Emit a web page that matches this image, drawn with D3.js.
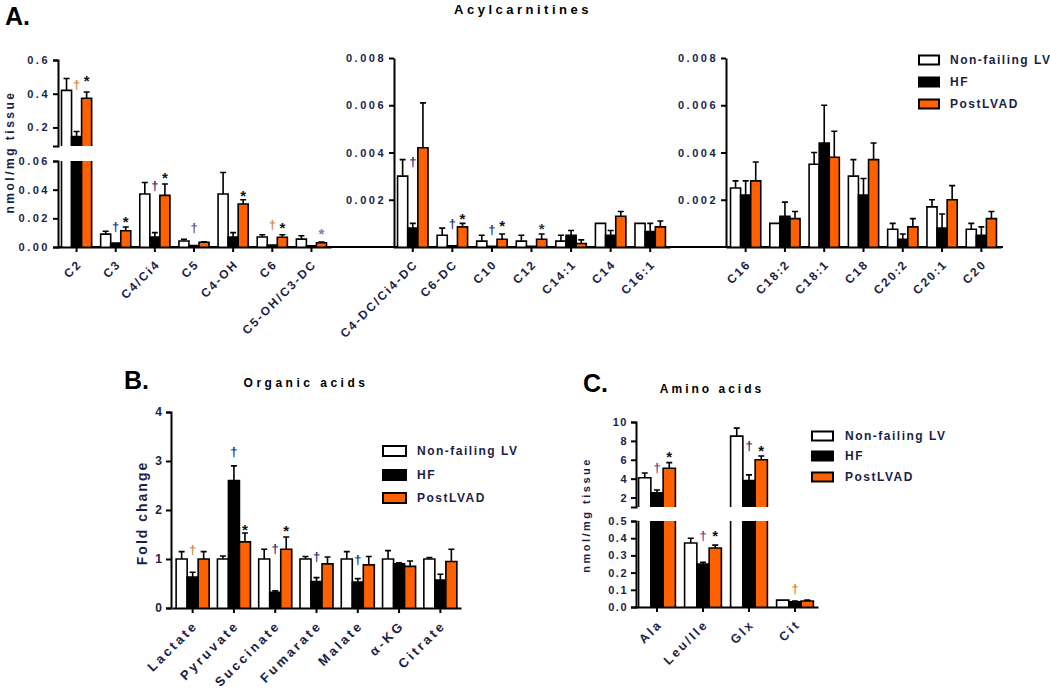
<!DOCTYPE html>
<html><head><meta charset="utf-8">
<script src="https://cdn.jsdelivr.net/npm/d3@7"></script>
<style>
body{margin:0;background:#fff;}
svg text{font-family:"Liberation Sans",Arial,sans-serif;font-weight:bold;}
</style></head><body>
<svg id="chart" width="1050" height="692"></svg>
<script>
// ---------- DATA ----------
const seriesNames = ["Non-failing LV", "HF", "PostLVAD"];

// Panel A – left (short/medium chain)
const acylLeftCats = ["C2","C3","C4/Ci4","C5","C4-OH","C6","C5-OH/C3-DC"];
const acylLeftNF     = [0.42, 0.009, 0.037, 0.0042, 0.037, 0.007, 0.0055];
const acylLeftNFErr  = [0.49, 0.011, 0.045, 0.0054, 0.052, 0.0085, 0.0078];
const acylLeftHF     = [0.146, 0.0028, 0.007, 0.001, 0.007, 0.0014, 0.0008];
const acylLeftHFErr  = [0.176, 0.0028, 0.010, 0.001, 0.010, 0.0014, 0.0008];
const acylLeftLV     = [0.373, 0.0113, 0.036, 0.0033, 0.030, 0.0068, 0.003];
const acylLeftLVErr  = [0.41, 0.014, 0.044, 0.0037, 0.033, 0.0085, 0.0035];
const acylLeftLowerTicks = [0, 0.02, 0.04, 0.06];
const acylLeftUpperTicks = [0.2, 0.4, 0.6];

// Panel A – middle
const acylMidCats = ["C4-DC/Ci4-DC","C6-DC","C10","C12","C14:1","C14","C16:1"];
const acylMidNF    = [0.0030, 0.0005, 0.00025, 0.00025, 0.00025, 0.0010, 0.0010];
const acylMidNFErr = [0.0037, 0.0008, 0.0005, 0.0005, 0.0005, 0.0010, 0.0010];
const acylMidHF    = [0.0008, 0.00005, 0.00003, 0.00003, 0.0005, 0.0005, 0.00065];
const acylMidHFErr = [0.0010, 0.00005, 0.00003, 0.00003, 0.0007, 0.0007, 0.0010];
const acylMidLV    = [0.0042, 0.00085, 0.00033, 0.00033, 0.00015, 0.0013, 0.00085];
const acylMidLVErr = [0.0061, 0.0010, 0.00055, 0.00055, 0.0003, 0.0015, 0.0011];

// Panel A – right (long chain)
const acylRightCats = ["C16","C18:2","C18:1","C18","C20:2","C20:1","C20"];
const acylRightNF    = [0.0025, 0.0010, 0.0035, 0.0030, 0.00075, 0.0017, 0.00075];
const acylRightNFErr = [0.0028, 0.0010, 0.0040, 0.0037, 0.0010, 0.0020, 0.0010];
const acylRightHF    = [0.0022, 0.0013, 0.0044, 0.0022, 0.00033, 0.0008, 0.0005];
const acylRightHFErr = [0.0028, 0.0019, 0.0060, 0.0029, 0.00055, 0.0014, 0.00085];
const acylRightLV    = [0.0028, 0.0012, 0.0038, 0.0037, 0.00085, 0.0020, 0.0012];
const acylRightLVErr = [0.0036, 0.0015, 0.0049, 0.0044, 0.0012, 0.0026, 0.0015];
const acylSmallTicks = [0.002, 0.004, 0.006, 0.008];

// Panel B – organic acids (fold change)
const orgCats = ["Lactate","Pyruvate","Succinate","Fumarate","Malate","\u03B1-KG","Citrate"];
const orgNF    = [1, 1, 1, 1, 1, 1, 1];
const orgNFErr = [1.15, 1.06, 1.2, 1.05, 1.15, 1.17, 1.03];
const orgHF    = [0.63, 2.6, 0.32, 0.54, 0.53, 0.9, 0.57];
const orgHFErr = [0.73, 2.9, 0.35, 0.62, 0.6, 0.92, 0.69];
const orgLV    = [1.0, 1.35, 1.2, 0.9, 0.88, 0.85, 0.95];
const orgLVErr = [1.15, 1.53, 1.45, 1.04, 1.05, 0.96, 1.2];
const orgTicks = [0, 1, 2, 3, 4];

// Panel C – amino acids
const aminoCats = ["Ala","Leu/Ile","Glx","Cit"];
const aminoNF    = [4.1, 0.372, 8.5, 0.04];
const aminoNFErr = [4.6, 0.40, 9.35, 0.04];
const aminoHF    = [2.5, 0.25, 3.8, 0.03];
const aminoHFErr = [2.8, 0.26, 4.4, 0.035];
const aminoLV    = [5.1, 0.343, 6.0, 0.035];
const aminoLVErr = [5.7, 0.36, 6.4, 0.04];
const aminoLowerTicks = [0, 0.1, 0.2, 0.3, 0.4, 0.5];
const aminoUpperTicks = [2, 4, 6, 8, 10];

// significance marks: [category, series index, symbol, value at glyph centre, colour]
const NAVY = "#24307a", PURPLE = "#7a3d8f", ORANGE = "#d4893a", GREY = "#7384a8", BLK = "#111";
const acylLeftMarks = [
  ["C2",1,"\u2020",0.452,ORANGE],["C2",2,"*",0.493,BLK],
  ["C3",1,"\u2020",0.0136,NAVY],["C3",2,"*",0.0195,BLK],
  ["C4/Ci4",1,"\u2020",0.0422,NAVY],["C4/Ci4",2,"*",0.0506,BLK],
  ["C5",1,"\u2020",0.0133,PURPLE],
  ["C4-OH",2,"*",0.0377,BLK],
  ["C6",1,"\u2020",0.0154,ORANGE],["C6",2,"*",0.0157,BLK],
  ["C5-OH/C3-DC",2,"*",0.0112,GREY]
];
const acylMidMarks = [
  ["C4-DC/Ci4-DC",1,"\u2020",0.00358,NAVY],
  ["C6-DC",1,"\u2020",0.00097,NAVY],["C6-DC",2,"*",0.00135,BLK],
  ["C10",1,"\u2020",0.00072,NAVY],["C10",2,"*",0.00102,BLK],
  ["C12",2,"*",0.00091,"#333"]
];
const orgMarks = [
  ["Lactate",1,"\u2020",1.18,ORANGE],
  ["Pyruvate",1,"\u2020",3.18,NAVY],["Pyruvate",2,"*",1.66,BLK],
  ["Succinate",1,"\u2020",1.2,NAVY],["Succinate",2,"*",1.64,BLK],
  ["Fumarate",1,"\u2020",1.03,NAVY],
  ["Malate",1,"\u2020",0.98,NAVY]
];
const aminoMarks = [
  ["Ala",1,"\u2020",5.1,PURPLE],["Ala",2,"*",6.68,BLK],
  ["Leu/Ile",1,"\u2020",0.413,PURPLE],["Leu/Ile",2,"*",0.433,BLK],
  ["Glx",1,"\u2020",7.47,NAVY],["Glx",2,"*",7.26,BLK],
  ["Cit",1,"\u2020",0.105,ORANGE]
];

// ---------- DRAWING ----------
const svg = d3.select("#chart");
const FILL = ["#ffffff", "#000000", "#ff6000"];
const TXT = "#1b1e46";

function yMapper(segs){
  const sc = segs.map(s => d3.scaleLinear().domain(s.domain).range(s.range));
  const f = v => {
    for (let k = segs.length - 1; k >= 0; k--) {
      if (v >= segs[k].domain[0] || k === 0) return sc[k](Math.min(v, segs[k].domain[1]));
    }
  };
  f.scales = sc; f.segs = segs;
  return f;
}

function styleAxis(g, fs, ls){
  g.selectAll("path,line").attr("stroke", "#000").attr("stroke-width", 2);
  g.selectAll("text").attr("fill", TXT).attr("font-size", fs).attr("letter-spacing", ls)
    .attr("font-family", "Liberation Sans, Arial, sans-serif").attr("font-weight", "bold");
}

function yAxis(x, scale, ticks, fmt, outer, fs, ls){
  const g = svg.append("g").attr("transform", `translate(${x},0)`)
    .call(d3.axisLeft(scale).tickValues(ticks).tickFormat(fmt).tickSize(5).tickSizeOuter(outer));
  styleAxis(g, fs, ls);
  g.selectAll(".tick text").attr("x", -8);
  return g;
}

function drawBars(cats, vals, errs, x0, ym){
  const g = svg.append("g");
  const x1 = d3.scaleBand().domain([0,1,2]).range([0, x0.bandwidth()]);
  const w = x1.bandwidth();
  cats.forEach((c, i) => {
    for (let s = 0; s < 3; s++) {
      const v = vals[s][i], e = errs[s][i];
      const xl = x0(c) + x1(s), xr = xl + w, xc = xl + w / 2;
      ym.segs.forEach((seg, k) => {
        const lo = k === 0 ? 0 : seg.domain[0];
        if (v <= lo) return;
        const hi = seg.domain[1];
        const top = Math.min(v, hi);
        const yb = ym.scales[k](lo), yt = ym.scales[k](top);
        g.append("rect").attr("x", xl).attr("y", yt).attr("width", w)
          .attr("height", Math.max(0, yb - yt)).attr("fill", FILL[s]);
        const closed = v <= hi;
        const d = closed ? `M${xl},${yb}V${yt}H${xr}V${yb}` : `M${xl},${yb}V${yt}M${xr},${yt}V${yb}`;
        g.append("path").attr("d", d).attr("fill", "none").attr("stroke", "#000").attr("stroke-width", 1.6);
      });
      if (e > v) {
        const y1 = ym(v), y2 = ym(e);
        g.append("path").attr("d", `M${xc},${y1}V${y2}M${xc-3},${y2}H${xc+3}`)
          .attr("stroke", "#000").attr("stroke-width", 1.6).attr("fill", "none");
      }
    }
  });
  return x1;
}

function drawMarks(marks, x0, x1, ym){
  marks.forEach(([cat, s, sym, v, col]) => {
    const xc = x0(cat) + x1(s) + x1.bandwidth() / 2;
    const star = sym === "*";
    svg.append("text").attr("x", xc).attr("y", ym(v))
      .attr("dy", star ? "0.56em" : "0.3em").attr("text-anchor", "middle")
      .attr("fill", col).attr("font-size", star ? 15 : 13).text(sym);
  });
}

function xAxis(cats, x0, y, fs, ls, off, down){
  const g = svg.append("g").attr("transform", `translate(0,${y})`)
    .call(d3.axisBottom(x0).tickSize(5).tickSizeOuter(0).tickFormat(""));
  styleAxis(g, fs, ls);
  cats.forEach(c => {
    const xc = x0(c) + x0.bandwidth() / 2;
    svg.append("text").attr("transform", `translate(${xc + off},${y + down}) rotate(-45)`)
      .attr("text-anchor", "end").attr("dy", "0.35em")
      .attr("font-size", fs).attr("letter-spacing", ls).attr("fill", TXT).text(c);
  });
}

function legend(x, ys, bw, bh, tx, fs, ls){
  seriesNames.forEach((n, i) => {
    svg.append("rect").attr("x", x).attr("y", ys[i] - bh / 2).attr("width", bw).attr("height", bh)
      .attr("fill", FILL[i]).attr("stroke", "#000").attr("stroke-width", 2);
    svg.append("text").attr("x", tx).attr("y", ys[i]).attr("dy", "0.35em")
      .attr("font-size", fs).attr("letter-spacing", ls).attr("fill", TXT).text(n);
  });
}

function label(x, y, txt, fs, ls, rot, anchor, fill){
  const t = svg.append("text").attr("font-size", fs).attr("letter-spacing", ls)
    .attr("fill", fill || "#000").attr("text-anchor", anchor || "middle").text(txt);
  if (rot) t.attr("transform", `translate(${x},${y}) rotate(${rot})`);
  else t.attr("x", x).attr("y", y);
}

// ===== Panel A =====
const A_Y0 = 247;
const axL = d3.scaleBand().domain(acylLeftCats).range([57, 331]).paddingInner(0.23).paddingOuter(0.115);
const ymL = yMapper([{domain:[0,0.06], range:[A_Y0,161]}, {domain:[0.09,0.6], range:[146,60]}]);
svg.append("line").attr("x1", 58).attr("x2", 1003).attr("y1", A_Y0).attr("y2", A_Y0)
  .attr("stroke", "#000").attr("stroke-width", 2);
const x1L = drawBars(acylLeftCats, [acylLeftNF, acylLeftHF, acylLeftLV], [acylLeftNFErr, acylLeftHFErr, acylLeftLVErr], axL, ymL);
yAxis(58, ymL.scales[0], acylLeftLowerTicks, d3.format(".2f"), 5, 11, 2.5);
yAxis(58, ymL.scales[1], acylLeftUpperTicks, d3.format(".1f"), 5, 11, 2.5);
xAxis(acylLeftCats, axL, A_Y0, 12, 2, 3, 15);
drawMarks(acylLeftMarks, axL, x1L, ymL);

const axM = d3.scaleBand().domain(acylMidCats).range([393, 670]).paddingInner(0.23).paddingOuter(0.115);
const ymM = yMapper([{domain:[0,0.008], range:[A_Y0,58]}]);
const x1M = drawBars(acylMidCats, [acylMidNF, acylMidHF, acylMidLV], [acylMidNFErr, acylMidHFErr, acylMidLVErr], axM, ymM);
yAxis(394, ymM.scales[0], acylSmallTicks, d3.format(".3f"), 0, 11, 2.5);
xAxis(acylMidCats, axM, A_Y0, 12, 2, 3, 15);
drawMarks(acylMidMarks, axM, x1M, ymM);

const axR = d3.scaleBand().domain(acylRightCats).range([726, 1001]).paddingInner(0.23).paddingOuter(0.115);
const ymR = yMapper([{domain:[0,0.008], range:[A_Y0,58]}]);
drawBars(acylRightCats, [acylRightNF, acylRightHF, acylRightLV], [acylRightNFErr, acylRightHFErr, acylRightLVErr], axR, ymR);
yAxis(726, ymR.scales[0], acylSmallTicks, d3.format(".3f"), 0, 11, 2.5);
xAxis(acylRightCats, axR, A_Y0, 12, 2, 3, 15);

legend(919, [60, 82, 104], 20, 9, 950, 12, 1.5);
label(5, 25, "A.", 25, 0, 0, "start");
label(523, 14, "Acylcarnitines", 13, 3.5);
label(14, 152, "nmol/mg tissue", 12, 2.5, -90, "middle", TXT);

// ===== Panel B =====
const B_Y0 = 608;
const axB = d3.scaleBand().domain(orgCats).range([172, 461]).paddingInner(0.2).paddingOuter(0.1);
const ymB = yMapper([{domain:[0,4], range:[B_Y0,412]}]);
const x1B = drawBars(orgCats, [orgNF, orgHF, orgLV], [orgNFErr, orgHFErr, orgLVErr], axB, ymB);
yAxis(171, ymB.scales[0], orgTicks, d3.format("d"), 5, 12, 1);
xAxis(orgCats, axB, B_Y0, 13, 2.8, 3, 15);
drawMarks(orgMarks, axB, x1B, ymB);
legend(383, [451, 475, 498], 23, 10, 417, 12, 1.5);
label(124, 389, "B.", 25, 0, 0, "start");
label(306, 387, "Organic acids", 12, 3.5);
label(147, 513, "Fold change", 14, 2, -90, "middle", TXT);

// ===== Panel C =====
const C_Y0 = 607;
const axC = d3.scaleBand().domain(aminoCats).range([634, 818]).paddingInner(0.2).paddingOuter(0.1);
const ymC = yMapper([{domain:[0,0.5], range:[C_Y0,521]}, {domain:[1,10], range:[507,422]}]);
const x1C = drawBars(aminoCats, [aminoNF, aminoHF, aminoLV], [aminoNFErr, aminoHFErr, aminoLVErr], axC, ymC);
yAxis(636, ymC.scales[0], aminoLowerTicks, d3.format(".1f"), 5, 11, 1.5);
yAxis(636, ymC.scales[1], aminoUpperTicks, d3.format("d"), 5, 11, 1.5);
xAxis(aminoCats, axC, C_Y0, 12.5, 2.5, 3, 15);
drawMarks(aminoMarks, axC, x1C, ymC);
legend(812, [436, 456, 477], 21, 9, 845, 12, 1.5);
label(583, 392, "C.", 25, 0, 0, "start");
label(712, 393, "Amino acids", 12, 3);
label(590, 515, "nmol/mg tissue", 11, 2.5, -90, "middle", TXT);
</script>
</body></html>
